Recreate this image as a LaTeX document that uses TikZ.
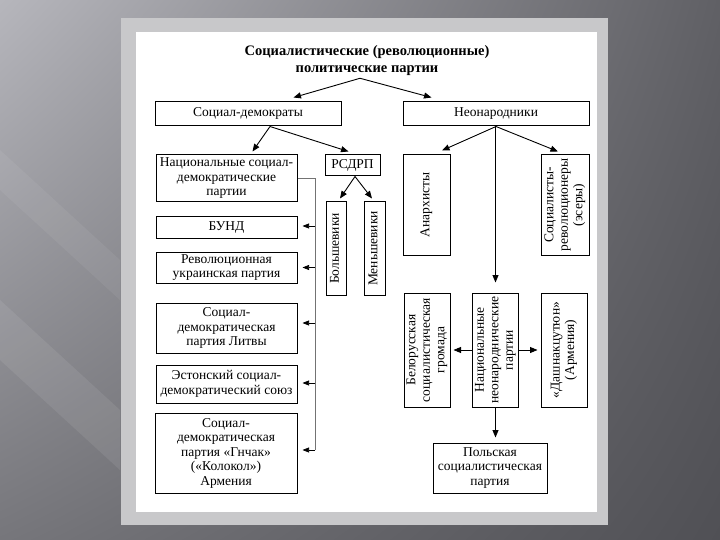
\documentclass[tikz,border=0pt]{standalone}
\usepackage{fontspec}
\usepackage{graphicx}
\setmainfont{Liberation Serif}
\usetikzlibrary{arrows.meta,shadings}
\newcommand{\rottxt}[1]{\rotatebox{90}{\begin{tabular}{@{}c@{}}#1\end{tabular}}}
\definecolor{bgUL}{RGB}{182,182,188}
\definecolor{bgUR}{RGB}{96,96,101}
\definecolor{bgLL}{RGB}{118,118,123}
\definecolor{bgLR}{RGB}{80,80,85}
\definecolor{framegray}{RGB}{200,200,202}
\begin{document}
\begin{tikzpicture}[x=1pt,y=-1pt,
  box/.style={draw=black, line width=1pt, fill=white, inner sep=1pt, align=center,
    font=\fontsize{13.5}{14.5}\selectfont},
  oneline/.style={text height=8pt, text depth=2.5pt},
  arr/.style={draw=black, line width=0.9pt, -{Triangle[length=7.5pt,width=6pt]}},
  sarr/.style={draw=black, line width=0.7pt, -{Triangle[length=6.5pt,width=5pt]}},
  feed/.style={draw=black!55, line width=0.7pt}]
\useasboundingbox (0,0) rectangle (720,540);
\shade[upper left=bgUL, upper right=bgUR, lower left=bgLL, lower right=bgLR] (0,0) rectangle (720,540);
\fill[white, opacity=0.08] (0,300) -- (0,360) -- (120,470) -- (120,410) -- cycle;
\fill[white, opacity=0.06] (0,150) -- (0,190) -- (120,300) -- (120,260) -- cycle;
\fill[framegray] (121,18) rectangle (608,525);
\fill[white] (136,32) rectangle (597,512);

\node[font=\fontsize{14.5}{17}\selectfont\bfseries, align=center, inner sep=2pt] (title) at (367,61)
  {Социалистические (революционные)\\политические партии};

\node[box, oneline, minimum width=186, minimum height=24] (sd) at (248,114) {Социал-демократы};
\node[box, oneline, minimum width=186, minimum height=24] (neo) at (496,114) {Неонародники};

\node[box, minimum width=141, minimum height=47] (nsd) at (226.5,178.5) {Национальные социал-\\демократические\\партии};
\node[box, oneline, minimum width=55, minimum height=21] (rsdrp) at (352.5,165.5) {РСДРП};
\node[box, minimum width=20, minimum height=93] (bol) at (336,248.5) {\rottxt{Большевики}};
\node[box, minimum width=21, minimum height=93] (men) at (374.5,248.5) {\rottxt{Меньшевики}};

\node[box, oneline, minimum width=141, minimum height=21] (bund) at (226.5,227.5) {БУНД};
\node[box, minimum width=141, minimum height=31] (ukr) at (226.5,267.5) {Революционная\\украинская партия};
\node[box, minimum width=141, minimum height=50] (lit) at (226.5,328) {Социал-\\демократическая\\партия Литвы};
\node[box, minimum width=141, minimum height=38] (est) at (226.5,384) {Эстонский социал-\\демократический союз};
\node[box, minimum width=142, minimum height=80] (gn) at (226,453) {Социал-\\демократическая\\партия «Гнчак»\\(«Колокол»)\\Армения};

\node[box, minimum width=47, minimum height=100] (anar) at (426.5,205) {\rottxt{Анархисты}};
\node[box, minimum width=48, minimum height=100] (sr) at (565,205) {\rottxt{Социалисты-\\революционеры\\(эсеры)}};

\node[box, minimum width=46, minimum height=114] (bel) at (427,350) {\rottxt{Белорусская\\социалистическая\\громада}};
\node[box, minimum width=45, minimum height=114] (nnp) at (495.5,350) {\rottxt{Национальные\\неонароднические\\партии}};
\node[box, minimum width=46, minimum height=114] (dash) at (564,350) {\rottxt{«Дашнакцутюн»\\(Армения)}};
\node[box, minimum width=114, minimum height=50] (pol) at (490,468) {Польская\\социалистическая\\партия};

% top arrows
\draw[arr] ([xshift=-7pt]title.south) -- ([xshift=-48pt,yshift=4pt]sd.north east);
\draw[arr] ([xshift=-7pt]title.south) -- ([xshift=29pt,yshift=4pt]neo.north west);
% social-democrats
\draw[arr] ([xshift=22pt]sd.south) -- ([xshift=26pt,yshift=3pt]nsd.north);
\draw[arr] ([xshift=22pt]sd.south) -- ([xshift=-4pt,yshift=3pt]rsdrp.north);
\draw[arr] ([xshift=2.5pt]rsdrp.south) -- ([xshift=4pt,yshift=3pt]bol.north);
\draw[arr] ([xshift=2.5pt]rsdrp.south) -- ([xshift=-2.5pt,yshift=3pt]men.north);
% neonarodniki
\draw[arr] (neo.south) -- ([xshift=15.5pt,yshift=4pt]anar.north);
\draw[arr] (neo.south) -- ([xshift=-7pt,yshift=3pt]sr.north);
\draw[arr] (neo.south -| nnp.north) -- ([yshift=10pt]nnp.north);
\draw[arr] (nnp.west) -- ([xshift=3pt]bel.east);
\draw[arr] (nnp.east) -- ([xshift=-3pt]dash.west);
\coordinate (pt) at ([yshift=5pt]pol.north);
\draw[arr] (nnp.south) -- (nnp.south |- pt);

% national social-democratic feed line
\coordinate (fk) at (315,178.5);
\coordinate (ba) at ([xshift=5pt,yshift=1.5pt]bund.east);
\coordinate (ua) at ([xshift=5pt]ukr.east);
\coordinate (la) at ([xshift=5pt,yshift=5pt]lit.east);
\coordinate (ea) at ([xshift=5pt,yshift=1pt]est.east);
\coordinate (ga) at ([xshift=5pt,yshift=3pt]gn.east);
\draw[feed] (nsd.east |- fk) -- (fk) -- (fk |- ga);
\draw[sarr] (fk |- ba) -- (ba);
\draw[sarr] (fk |- ua) -- (ua);
\draw[sarr] (fk |- la) -- (la);
\draw[sarr] (fk |- ea) -- (ea);
\draw[sarr] (fk |- ga) -- (ga);
\end{tikzpicture}
\end{document}
